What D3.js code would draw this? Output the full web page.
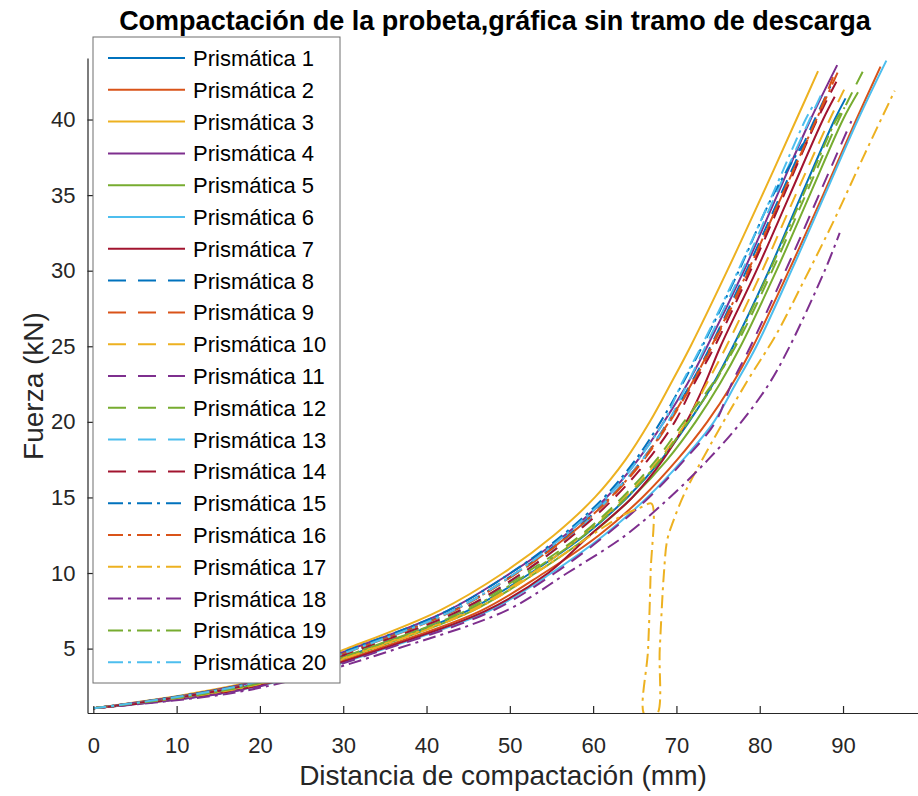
<!DOCTYPE html>
<html>
<head>
<meta charset="utf-8">
<title>Compactación de la probeta</title>
<script src="https://d3js.org/d3.v7.min.js"></script>
<style>
  body { margin: 0; background: #fff; }
  text { font-family: Arial, "Liberation Sans", sans-serif; }
</style>
</head>
<body>
<svg width="918" height="796"></svg>
<script>
// displacement (mm), force (kN) pairs
const p1  = [[0,1.05],[13.4,2],[22.1,3],[33.0,5],[44.9,7.5],[52.5,10],[59.0,12.5],[64.1,15],[68.2,17.5],[71.5,20],[74.4,22.5],[76.8,25],[81.1,30],[85.0,35],[89.0,40],[90.3,41.4]];
const p2  = [[0,1.05],[14.3,2],[23.0,3],[34.2,5],[46.5,7.5],[54.1,10],[60.7,12.5],[65.9,15],[70.1,17.5],[73.7,20],[76.7,22.5],[79.2,25],[83.5,30],[87.6,35],[91.6,40],[94.5,43.5]];
const p3  = [[0,1.05],[11.5,2],[20.3,3],[30.4,5],[41.5,7.5],[49.2,10],[55.3,12.5],[60.2,15],[63.9,17.5],[66.8,20],[69.3,22.5],[71.7,25],[76.1,30],[80.3,35],[84.4,40],[87.0,43.2]];
const p4  = [[0,1.05],[12.0,2],[20.8,3],[31.1,5],[42.5,7.5],[50.1,10],[56.6,12.5],[61.6,15],[65.4,17.5],[68.5,20],[71.3,22.5],[73.7,25],[78.1,30],[82.1,35],[86.1,40],[89.3,43.6]];
const p5  = [[0,1.05],[13.8,2],[22.4,3],[33.5,5],[45.5,7.5],[53.1,10],[59.6,12.5],[64.7,15],[68.9,17.5],[72.3,20],[75.2,22.5],[77.7,25],[82.0,30],[86.0,35],[90.0,40],[91.8,41.8]];
const p6  = [[0,1.05],[14.9,2],[23.5,3],[35.0,5],[47.5,7.5],[55.0,10],[61.3,12.5],[66.5,15],[70.8,17.5],[74.5,20],[77.1,22.5],[79.6,25],[83.8,30],[87.8,35],[91.8,40],[95.2,43.9]];
const p7  = [[0,1.05],[14.7,2],[23.2,3],[34.7,5],[47.1,7.5],[54.6,10],[59.6,12.5],[64.7,15],[68.4,17.5],[71.2,20],[73.4,22.5],[75.3,25],[79.6,30],[83.6,35],[87.6,40],[89.0,41.5]];
const p8  = [[0,1.05],[12.4,2],[21.1,3],[31.6,5],[43.1,7.5],[50.7,10],[57.0,12.5],[62.0,15],[65.9,17.5],[69.0,20],[71.7,22.5],[74.1,25],[78.4,30],[82.5,35],[86.6,40],[88.5,42.2]];
const p9  = [[0,1.05],[12.5,2],[21.2,3],[31.7,5],[43.3,7.5],[50.9,10],[57.2,12.5],[62.2,15],[66.1,17.5],[69.2,20],[71.9,22.5],[74.3,25],[78.7,30],[82.7,35],[86.8,40],[88.8,42.8]];
const p10 = [[0,1.05],[13.5,2],[22.2,3],[33.2,5],[45.1,7.5],[52.7,10],[58.7,12.5],[63.8,15],[67.9,17.5],[71.2,20],[73.6,22.5],[76.0,25],[80.3,30],[84.3,35],[88.4,40],[90.6,42.5]];
const p11 = [[0,1.05],[15.1,2],[23.7,3],[35.3,5],[47.9,7.5],[55.4,10],[61.5,12.5],[66.7,15],[71.0,17.5],[74.7,20],[76.6,22.5],[78.9,25],[83.1,30],[87.1,35],[91.0,39.9]];
const p12 = [[0,1.05],[13.1,2],[21.8,3],[32.5,5],[44.3,7.5],[51.9,10],[58.5,12.5],[63.5,15],[67.6,17.5],[70.9,20],[74.3,22.5],[77.1,25],[81.5,30],[85.5,35],[89.5,40],[92.4,43.2]];
const p13 = [[0,1.05],[12.9,2],[21.6,3],[32.2,5],[43.9,7.5],[51.5,10],[57.5,12.5],[62.0,15],[65.9,17.5],[69.0,20],[71.3,22.5],[73.5,25],[77.9,30],[81.9,35],[86.0,40],[87.5,41.8]];
const p14 = [[0,1.05],[12.9,2],[21.6,3],[32.2,5],[43.9,7.5],[51.5,10],[57.6,12.5],[62.6,15],[66.6,17.5],[69.8,20],[72.1,22.5],[74.6,25],[78.9,30],[82.9,35],[86.9,40],[89.2,42.5]];
const p15 = [[0,1.05],[12.0,2],[20.8,3],[31.1,5],[42.5,7.5],[50.1,10],[56.3,12.5],[61.3,15],[65.1,17.5],[68.1,20],[70.7,22.5],[73.1,25],[77.5,30],[81.6,35],[85.2,38.4]];
const p16 = [[0,1.05],[12.4,2],[21.2,3],[31.7,5],[43.2,7.5],[50.8,10],[57.1,12.5],[62.1,15],[66.0,17.5],[69.1,20],[71.8,22.5],[74.2,25],[78.6,30],[82.7,35],[86.8,40],[89.5,43.3]];
// probeta 17: unload and reload near 67 mm
const p17 = [[0,1.05],[13.8,2],[22.4,3],[33.5,5],[45.5,7.5],[53.1,10],[59.8,12.5],[63.5,13.8],[66.0,14.4],[67.0,14.6],
             [66.9,10],[66.6,5],[66.2,0.6],[67.6,0.6],[68.0,5],[68.5,10],[68.9,12.2],[69.6,13.4],[71.0,15.3],
             [74.0,18.4],[78.4,22.6],[82.0,25.8],[85.0,29.0],[88.8,33.2],[92.5,37.6],[96.2,41.9]];
const p18 = [[0,1.05],[16.0,2],[24.5,3],[36.5,5],[49.5,7.5],[56.9,10],[63.9,12.5],[69.2,15],[73.8,17.5],[77.8,20],[81.1,22.5],[83.6,25],[87.8,30],[89.6,32.5]];
const p19 = [[0,1.05],[13.3,2],[22.0,3],[32.8,5],[44.7,7.5],[52.3,10],[58.9,12.5],[64.0,15],[68.1,17.5],[71.4,20],[74.5,22.5],[76.9,25],[81.2,30],[85.2,35],[89.2,40],[90.2,40.8]];
const p20 = [[0,1.05],[12.4,2],[21.1,3],[31.6,5],[43.1,7.5],[50.7,10],[56.6,12.5],[61.6,15],[65.4,17.5],[68.5,20],[70.6,22.5],[73.0,25],[77.4,30],[81.5,35],[85.5,40],[86.5,41.0]];

const series = [p1,p2,p3,p4,p5,p6,p7,p8,p9,p10,p11,p12,p13,p14,p15,p16,p17,p18,p19,p20];
const names = series.map((d, i) => 'Prismática ' + (i + 1));

const xTicks = [0,10,20,30,40,50,60,70,80,90];
const yTicks = [5,10,15,20,25,30,35,40];

// matlab default colour order
const colors = ['#0072BD','#D95319','#EDB120','#7E2F8E','#77AC30','#4DBEEE','#A2142F'];
const dashFor = i => i < 7 ? null : (i < 14 ? '14,9' : '13,5,3,5');

const svg = d3.select('svg');

const xScale = d3.scaleLinear().domain([-0.7, 99.0]).range([87.5, 918]);
const yScale = d3.scaleLinear().domain([0.74, 44.07]).range([713, 58]);

svg.append('defs').append('clipPath').attr('id', 'clip')
    .append('rect')
    .attr('x', 87.5).attr('y', 58)
    .attr('width', 918 - 87.5).attr('height', 713 - 58);

const line = d3.line()
    .x(d => xScale(d[0]))
    .y(d => yScale(d[1]))
    .curve(d3.curveCatmullRom.alpha(0.5));

const plot = svg.append('g').attr('clip-path', 'url(#clip)');
plot.selectAll('path').data(series)
    .enter().append('path')
    .attr('d', line)
    .attr('fill', 'none')
    .attr('stroke', (d, i) => colors[i % 7])
    .attr('stroke-width', 2)
    .attr('stroke-dasharray', (d, i) => dashFor(i));

// axes (box off, ticks inside)
const xAxis = d3.axisBottom(xScale).tickValues(xTicks).tickSize(-7).tickSizeOuter(0).tickPadding(24);
const yAxis = d3.axisLeft(yScale).tickValues(yTicks).tickSize(-7).tickSizeOuter(0).tickPadding(12);

const xAxisG = svg.append('g').attr('transform', 'translate(0,713)').call(xAxis);
const yAxisG = svg.append('g').attr('transform', 'translate(87.5,0)').call(yAxis);

[xAxisG, yAxisG].forEach(g => {
    g.select('.domain').attr('stroke', '#262626').attr('stroke-width', 1.2);
    g.selectAll('.tick line').attr('stroke', '#262626').attr('stroke-width', 1.2);
    g.selectAll('.tick text')
        .attr('fill', '#262626')
        .style('font-size', '22px')
        .style('font-family', 'Arial, "Liberation Sans", sans-serif');
});

// legend
const legend = svg.append('g');
legend.append('rect')
    .attr('x', 93).attr('y', 37)
    .attr('width', 247).attr('height', 646)
    .attr('fill', '#fff')
    .attr('stroke', '#6e6e6e')
    .attr('stroke-width', 1);

const rows = legend.selectAll('g.row').data(names)
    .enter().append('g')
    .attr('class', 'row')
    .attr('transform', (d, i) => `translate(0,${58 + i * 31.8})`);

rows.append('line')
    .attr('x1', 108).attr('x2', 185)
    .attr('stroke', (d, i) => colors[i % 7])
    .attr('stroke-width', 2)
    .attr('stroke-dasharray', (d, i) => i < 7 ? null : (i < 14 ? '18,12' : '15,5,3,6'));

rows.append('text')
    .attr('x', 193).attr('y', 8)
    .style('font-size', '22px')
    .attr('fill', '#000')
    .text(d => d);

// labels
svg.append('text')
    .attr('x', 495).attr('y', 30)
    .attr('text-anchor', 'middle')
    .style('font-size', '27px')
    .style('font-weight', 'bold')
    .attr('fill', '#000')
    .text('Compactación de la probeta,gráfica sin tramo de descarga');

svg.append('text')
    .attr('x', 503).attr('y', 785)
    .attr('text-anchor', 'middle')
    .style('font-size', '28px')
    .attr('fill', '#262626')
    .text('Distancia de compactación (mm)');

svg.append('text')
    .attr('transform', 'translate(43,386) rotate(-90)')
    .attr('text-anchor', 'middle')
    .style('font-size', '28px')
    .attr('fill', '#262626')
    .text('Fuerza (kN)');
</script>
</body>
</html>
